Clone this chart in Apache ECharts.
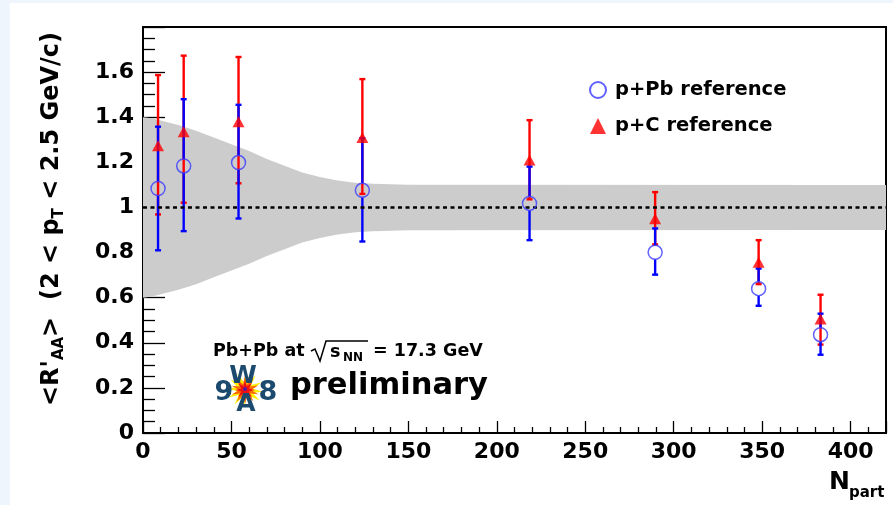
<!DOCTYPE html>
<html>
<head>
<meta charset="utf-8">
<script src="https://cdn.jsdelivr.net/npm/echarts@6/dist/echarts.min.js"></script>
<style>
html,body{margin:0;padding:0;background:#fff;}
#chart{width:893px;height:505px;}
</style>
</head>
<body>
<div id="chart"></div>
<script>
// ---- data ----
const nPart   = [8.5, 23, 54, 124, 218.5, 289.5, 348, 383];
const pPbVal  = [1.084, 1.184, 1.199, 1.076, 1.018, 0.801, 0.640, 0.436];
const pPbLo   = [0.810, 0.895, 0.951, 0.849, 0.855, 0.702, 0.564, 0.347];
const pPbHi   = [1.358, 1.480, 1.455, 1.307, 1.181, 0.907, 0.729, 0.529];
const pCVal   = [1.273, 1.336, 1.380, 1.310, 1.210, 0.950, 0.757, 0.505];
const pCLo    = [0.969, 1.021, 1.107, 1.060, 1.036, 0.836, 0.660, 0.392];
const pCHi    = [1.587, 1.673, 1.667, 1.569, 1.387, 1.068, 0.855, 0.613];
// systematic band around 1
const bandN    = [0, 5, 10, 20, 30, 40, 50, 60, 70, 80, 90, 100, 110, 120, 130, 140, 150, 420];
const bandHalf = [0.40, 0.395, 0.385, 0.365, 0.34, 0.31, 0.28, 0.25, 0.215, 0.185, 0.155, 0.135, 0.12, 0.11, 0.105, 0.103, 0.101, 0.10];
const refLine = 1;
const xTicks = {min: 0, max: 420, interval: 50};
const yTicks = {min: 0, max: 1.8, interval: 0.2};

const FONT = 'DejaVu Sans';
const chart = echarts.init(document.getElementById('chart'), null, {renderer: 'canvas'});

const bandData = bandN.map((n, i) => [n, 1 - bandHalf[i], 1 + bandHalf[i]]);

function errRenderer(color, gap) {
  return function (params, api) {
    const x = api.value(0), v = api.value(1), lo = api.value(2), hi = api.value(3);
    const pc = api.coord([x, v]);
    const pl = api.coord([x, lo]);
    const ph = api.coord([x, hi]);
    const cw = 3;
    const st = {stroke: color, lineWidth: 2.4};
    const ch = [];
    if (gap > 0) {
      if (ph[1] < pc[1] - gap) ch.push({type: 'line', shape: {x1: pc[0], y1: pc[1] - gap, x2: ph[0], y2: ph[1]}, style: st});
      if (pl[1] > pc[1] + gap) ch.push({type: 'line', shape: {x1: pc[0], y1: pc[1] + gap, x2: pl[0], y2: pl[1]}, style: st});
    } else {
      ch.push({type: 'line', shape: {x1: pl[0], y1: pl[1], x2: ph[0], y2: ph[1]}, style: st});
    }
    ch.push({type: 'line', shape: {x1: ph[0] - cw, y1: ph[1], x2: ph[0] + cw, y2: ph[1]}, style: st});
    ch.push({type: 'line', shape: {x1: pl[0] - cw, y1: pl[1], x2: pl[0] + cw, y2: pl[1]}, style: st});
    return {type: 'group', children: ch};
  };
}

function starPts(cx, cy, ro, ri, n, rot) {
  const pts = [];
  for (let i = 0; i < 2 * n; i++) {
    const r = i % 2 === 0 ? ro : ri;
    const a = rot + Math.PI * i / n;
    pts.push([cx + r * Math.cos(a), cy + r * Math.sin(a)]);
  }
  return pts;
}

const LOGO = '#1b4a6e';

const option = {
  backgroundColor: '#ffffff',
  animation: false,
  grid: {left: 143, right: 7, top: 27, bottom: 72, containLabel: false, outerBoundsMode: 'none',
         show: true, borderColor: '#000', borderWidth: 2, backgroundColor: 'transparent'},
  xAxis: {
    type: 'value', min: xTicks.min, max: xTicks.max, interval: xTicks.interval,
    axisLine: {show: true, lineStyle: {color: '#000', width: 2}},
    axisTick: {show: true, inside: true, length: 12, lineStyle: {color: '#000', width: 1.3}},
    minorTick: {show: true, splitNumber: 5, length: 6, lineStyle: {color: '#000', width: 1.3}},
    splitLine: {show: false},
    axisLabel: {color: '#000', fontFamily: FONT, fontWeight: 'bold', fontSize: 22, margin: 8, showMaxLabel: false}
  },
  yAxis: {
    type: 'value', min: yTicks.min, max: yTicks.max, interval: yTicks.interval,
    axisLine: {show: true, lineStyle: {color: '#000', width: 2}},
    axisTick: {show: true, inside: true, length: 22, lineStyle: {color: '#000', width: 1.3}},
    minorTick: {show: true, splitNumber: 4, length: 12, lineStyle: {color: '#000', width: 1.3}},
    splitLine: {show: false},
    axisLabel: {color: '#000', fontFamily: FONT, fontWeight: 'bold', fontSize: 22, margin: 9, showMaxLabel: false}
  },
  legend: {
    orient: 'vertical', left: 584, top: 75, itemWidth: 16, itemHeight: 16, itemGap: 16,
    textStyle: {fontFamily: FONT, fontWeight: 'bold', fontSize: 19.5, color: '#000', padding: [0, 0, 0, 4]},
    data: ['p+Pb reference', 'p+C reference']
  },
  series: [
    {
      name: 'band', type: 'custom', z: 1, silent: true,
      data: bandData,
      renderItem: function (params, api) {
        if (params.dataIndex !== 0) return null;
        const top = bandData.map(d => api.coord([d[0], d[2]]));
        const bot = bandData.map(d => api.coord([d[0], d[1]])).reverse();
        return {type: 'polygon', shape: {points: top.concat(bot)}, style: {fill: '#cccccc'}};
      },
      clip: true
    },
    {
      name: 'ref', type: 'line', z: 2, data: [], silent: true,
      markLine: {silent: true, symbol: 'none', label: {show: false},
        lineStyle: {color: '#000', type: [4, 3.5], width: 2.5},
        data: [{yAxis: refLine}]}
    },
    {
      name: 'pCerr', type: 'custom', z: 3,
      data: nPart.map((n, i) => [n, pCVal[i], pCLo[i], pCHi[i]]),
      renderItem: errRenderer('#ff0000', 0)
    },
    {
      name: 'pPberr', type: 'custom', z: 4,
      data: nPart.map((n, i) => [n, pPbVal[i], pPbLo[i], pPbHi[i]]),
      renderItem: errRenderer('#0000ff', 7)
    },
    {
      name: 'p+C reference', type: 'scatter', z: 5,
      symbol: 'triangle', symbolSize: [12, 11],
      itemStyle: {color: '#ff0000'},
      data: nPart.map((n, i) => [n, pCVal[i]])
    },
    {
      name: 'p+Pb reference', type: 'scatter', z: 6,
      symbol: 'circle', symbolSize: 14,
      itemStyle: {color: 'rgba(0,0,0,0)', borderColor: '#3b3bff', borderWidth: 1.5},
      data: nPart.map((n, i) => [n, pPbVal[i]])
    }
  ],
  graphic: [
    {type: 'rect', silent: true, z: -10, shape: {x: 0, y: 0, width: 10, height: 505}, style: {fill: '#eef5fd'}},
    {type: 'rect', silent: true, z: -10, shape: {x: 0, y: 0, width: 893, height: 3}, style: {fill: '#eef5fd'}},
    // y axis title
    {type: 'text', x: 52, y: 219, rotation: Math.PI / 2, silent: true,
      style: {
        text: "{m|<R'}{s|AA}{m|>  (2 < p}{s|T}{m| < 2.5 GeV/c)}",
        align: 'center', verticalAlign: 'middle',
        rich: {
          m: {fontFamily: FONT, fontWeight: 'bold', fontSize: 24, lineHeight: 30, fill: '#000', verticalAlign: 'middle'},
          s: {fontFamily: FONT, fontWeight: 'bold', fontSize: 15, lineHeight: 15, fill: '#000', verticalAlign: 'bottom'}
        }
      }},
    // x axis title
    {type: 'text', x: 829, y: 482, silent: true,
      style: {text: 'N', font: 'bold 25px ' + FONT, fill: '#000', align: 'left', verticalAlign: 'middle'}},
    {type: 'text', x: 849, y: 493, silent: true,
      style: {text: 'part', font: 'bold 15px ' + FONT, fill: '#000', align: 'left', verticalAlign: 'middle'}},
    // annotation
    {type: 'text', x: 213, y: 351, silent: true,
      style: {text: 'Pb+Pb at', font: 'bold 17.5px ' + FONT, fill: '#000', align: 'left', verticalAlign: 'middle'}},
    {type: 'polyline', silent: true,
      shape: {points: [[311, 351], [315, 349], [320, 361], [326, 341], [368, 341]]},
      style: {stroke: '#000', lineWidth: 1.5, fill: null}},
    {type: 'text', x: 330, y: 352, silent: true,
      style: {text: 's', font: 'bold 17.5px ' + FONT, fill: '#000', align: 'left', verticalAlign: 'middle'}},
    {type: 'text', x: 343, y: 358, silent: true,
      style: {text: 'NN', font: 'bold 12px ' + FONT, fill: '#000', align: 'left', verticalAlign: 'middle'}},
    {type: 'text', x: 373, y: 351, silent: true,
      style: {text: '= 17.3 GeV', font: 'bold 17.5px ' + FONT, fill: '#000', align: 'left', verticalAlign: 'middle'}},
    {type: 'text', x: 290, y: 386, silent: true,
      style: {text: 'preliminary', font: 'bold 30.5px ' + FONT, fill: '#000', align: 'left', verticalAlign: 'middle'}},
    // WA98 logo
    {type: 'polygon', silent: true, shape: {points: starPts(245, 390, 18, 8, 12, 0.1)}, style: {fill: '#ffee00'}},
    {type: 'polygon', silent: true, shape: {points: starPts(245, 390, 14, 6, 10, 0.3)}, style: {fill: '#ff6a00'}},
    {type: 'polygon', silent: true, shape: {points: starPts(245, 390, 10, 4, 8, 0.0)}, style: {fill: '#ee1010'}},
    {type: 'circle', silent: true, shape: {cx: 245, cy: 389, r: 2}, style: {fill: '#5a1aa0'}},
    {type: 'text', x: 224, y: 393, silent: true,
      style: {text: '9', font: 'bold 27px ' + FONT, fill: LOGO, align: 'center', verticalAlign: 'middle'}},
    {type: 'text', x: 268, y: 393, silent: true,
      style: {text: '8', font: 'bold 27px ' + FONT, fill: LOGO, align: 'center', verticalAlign: 'middle'}},
    {type: 'text', x: 243, y: 376, silent: true,
      style: {text: 'W', font: 'bold 25px ' + FONT, fill: LOGO, align: 'center', verticalAlign: 'middle'}},
    {type: 'text', x: 246, y: 404, silent: true,
      style: {text: 'A', font: 'bold 25px ' + FONT, fill: LOGO, align: 'center', verticalAlign: 'middle'}}
  ]
};
chart.setOption(option);
</script>
</body>
</html>
